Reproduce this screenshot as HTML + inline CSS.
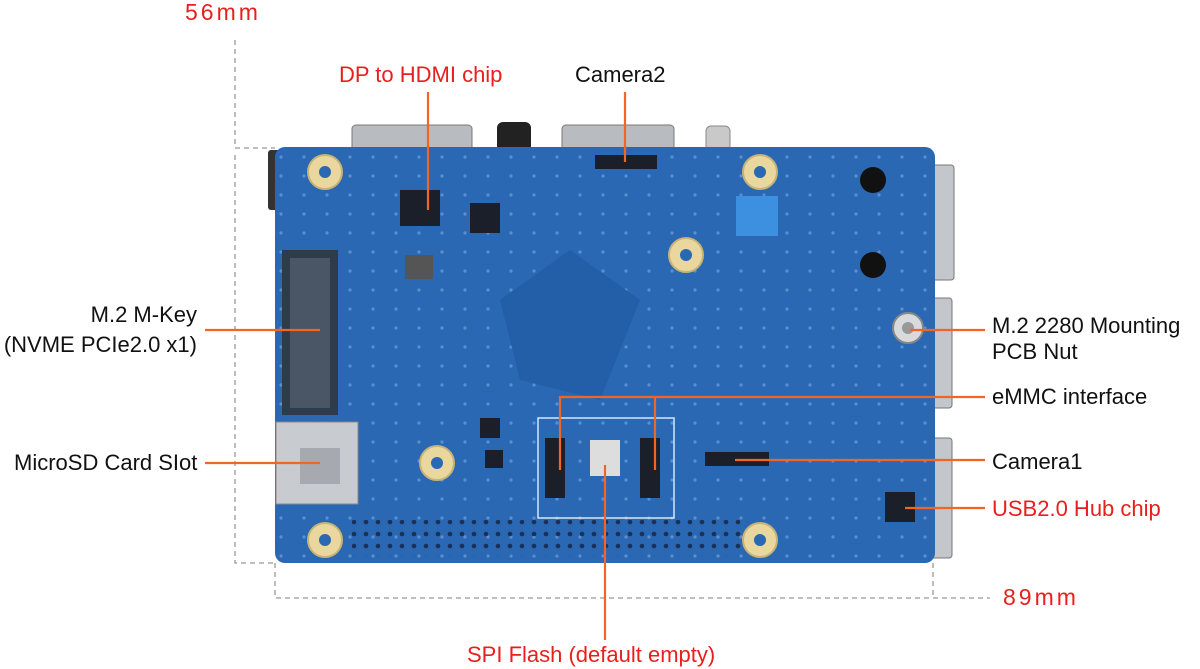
<!DOCTYPE html>
<html><head><meta charset="utf-8"><style>
html,body{margin:0;padding:0;background:#fff;}
body{width:1200px;height:669px;position:relative;overflow:hidden;font-family:"Liberation Sans","Noto Sans CJK SC",sans-serif;}
.t{position:absolute;font-size:22px;color:#111;white-space:nowrap;line-height:26px;}
.r{color:#e8201d;}
.m{letter-spacing:3px;font-size:23px;}
</style></head><body>
<svg width="1200" height="669" style="position:absolute;left:0;top:0">
<defs>
<pattern id="dots" width="12" height="12" patternUnits="userSpaceOnUse"><circle cx="6" cy="6" r="2.3" fill="#1c2f55"/></pattern>
<pattern id="via" width="23" height="19" patternUnits="userSpaceOnUse"><circle cx="5" cy="5" r="1.6" fill="#5d8fd0"/></pattern>
</defs>
<g stroke="#999" stroke-width="1.3" stroke-dasharray="5,4" fill="none">
<path d="M235 40 V148 H275"/>
<path d="M235 155 V563 H275"/>
<path d="M275 563 V598 H990"/>
<path d="M933 563 V598"/>
</g>
<rect x="352" y="125" width="120" height="30" rx="4" fill="#b8bcc0" stroke="#777"/>
<rect x="562" y="125" width="112" height="30" rx="4" fill="#b8bcc0" stroke="#777"/>
<rect x="497" y="122" width="34" height="30" rx="6" fill="#222"/>
<rect x="706" y="126" width="24" height="26" rx="5" fill="#c9c9c9" stroke="#888"/>
<rect x="928" y="165" width="26" height="115" rx="3" fill="#c3c6ca" stroke="#777"/>
<rect x="930" y="298" width="22" height="110" rx="3" fill="#c3c6ca" stroke="#777"/>
<rect x="930" y="438" width="22" height="120" rx="3" fill="#c3c6ca" stroke="#777"/>
<rect x="268" y="150" width="14" height="60" rx="3" fill="#333"/>
<rect x="275" y="147" width="660" height="416" rx="10" fill="#2a68b4"/>
<rect x="275" y="147" width="660" height="416" rx="10" fill="url(#via)"/>
<path d="M500 300 L570 250 L640 300 L600 400 L520 380 Z" fill="#235ea8"/>
<rect x="282" y="250" width="56" height="165" fill="#2f3a4a"/>
<rect x="290" y="258" width="40" height="150" fill="#4a5566"/>
<rect x="276" y="422" width="82" height="82" fill="#c8cbcf" stroke="#888"/>
<rect x="300" y="448" width="40" height="36" fill="#a6aab0"/>
<rect x="352" y="520" width="396" height="36" fill="url(#dots)"/>
<g fill="#e9d79e" stroke="#c8b377" stroke-width="2">
<circle cx="325" cy="172" r="17"/><circle cx="760" cy="172" r="17"/>
<circle cx="686" cy="255" r="17"/><circle cx="437" cy="463" r="17"/>
<circle cx="325" cy="540" r="17"/><circle cx="760" cy="540" r="17"/>
</g>
<g fill="#2a68b4"><circle cx="325" cy="172" r="6"/><circle cx="760" cy="172" r="6"/><circle cx="686" cy="255" r="6"/><circle cx="437" cy="463" r="6"/><circle cx="325" cy="540" r="6"/><circle cx="760" cy="540" r="6"/></g>
<circle cx="908" cy="328" r="15" fill="#d8dadc" stroke="#888" stroke-width="2"/>
<circle cx="908" cy="328" r="6" fill="#999"/>
<circle cx="873" cy="180" r="13" fill="#111"/><circle cx="873" cy="265" r="13" fill="#111"/>
<g fill="#1a1f2a">
<rect x="400" y="190" width="40" height="36"/>
<rect x="470" y="203" width="30" height="30"/>
<rect x="595" y="155" width="62" height="14"/>
<rect x="405" y="255" width="28" height="24" fill="#555"/>
<rect x="545" y="438" width="20" height="60"/>
<rect x="640" y="438" width="20" height="60"/>
<rect x="590" y="440" width="30" height="36" fill="#ddd"/>
<rect x="705" y="452" width="64" height="14"/>
<rect x="885" y="492" width="30" height="30"/>
<rect x="480" y="418" width="20" height="20"/>
<rect x="485" y="450" width="18" height="18"/>
</g>
<rect x="736" y="196" width="42" height="40" fill="#3d8fe0"/>
<rect x="538" y="418" width="136" height="100" fill="none" stroke="#d8e6f8" stroke-width="1.5"/>
<g stroke="#f26522" stroke-width="2.2" fill="none">
<path d="M428 92 V210"/>
<path d="M625 92 V162"/>
<path d="M205 330 H320"/>
<path d="M205 463 H320"/>
<path d="M910 330 H985"/>
<path d="M560 470 V397 H985 M655 470 V397"/>
<path d="M735 460 H985"/>
<path d="M905 508 H985"/>
<path d="M605 465 V640"/>
</g>
</svg>
<div class="t r m" style="left:185px;top:-1px">56mm</div>
<div class="t r m" style="left:1003px;top:584px">89mm</div>
<div class="t r" style="left:339px;top:62px">DP to HDMI chip</div>
<div class="t" style="left:575px;top:62px">Camera2</div>
<div class="t" style="left:0;width:197px;text-align:right;top:302px">M.2 M-Key</div>
<div class="t" style="left:0;width:197px;text-align:right;top:332px">(NVME PCIe2.0 x1)</div>
<div class="t" style="left:14px;top:450px">MicroSD Card SIot</div>
<div class="t" style="left:992px;top:313px">M.2 2280 Mounting</div>
<div class="t" style="left:992px;top:339px">PCB Nut</div>
<div class="t" style="left:992px;top:384px">eMMC interface</div>
<div class="t" style="left:992px;top:449px">Camera1</div>
<div class="t r" style="left:992px;top:496px">USB2.0 Hub chip</div>
<div class="t r" style="left:467px;top:642px">SPI Flash (default empty)</div>
</body></html>
